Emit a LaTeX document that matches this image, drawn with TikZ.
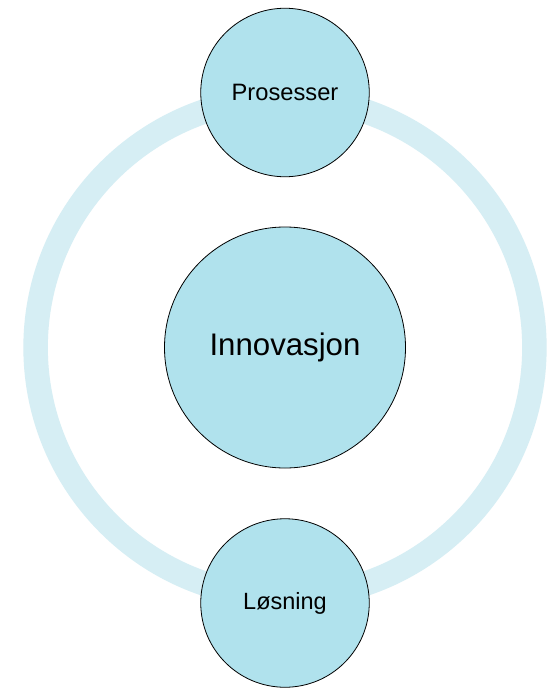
\documentclass[tikz,border=0pt]{standalone}
\usepackage{fontspec}
\setmainfont{Liberation Sans}
\definecolor{ringcol}{RGB}{214,238,244}
\definecolor{bubble}{RGB}{176,226,237}
\begin{document}
\begin{tikzpicture}[x=1bp,y=-1bp,
  bubblestyle/.style={circle, draw=black, line width=0.8bp, fill=bubble, inner sep=0pt, text=black}]
\useasboundingbox (0,0) rectangle (553,688);
\fill[white] (0,0) rectangle (553,688);
\coordinate (ringc) at (285,347.5);
\draw[ringcol, line width=24.5bp] (ringc) circle[radius=249.4bp];
\node[bubblestyle, minimum size=241bp, font=\fontsize{31.2bp}{36bp}\selectfont] (inn) at (285,347.5) {Innovasjon};
\node[bubblestyle, minimum size=168.5bp, font=\fontsize{23.7bp}{28bp}\selectfont] (pro) at (285,92.5) {Prosesser};
\node[bubblestyle, minimum size=168.5bp, font=\fontsize{23.5bp}{28bp}\selectfont] (los) at (285,603) {Løsning};
\end{tikzpicture}
\end{document}
